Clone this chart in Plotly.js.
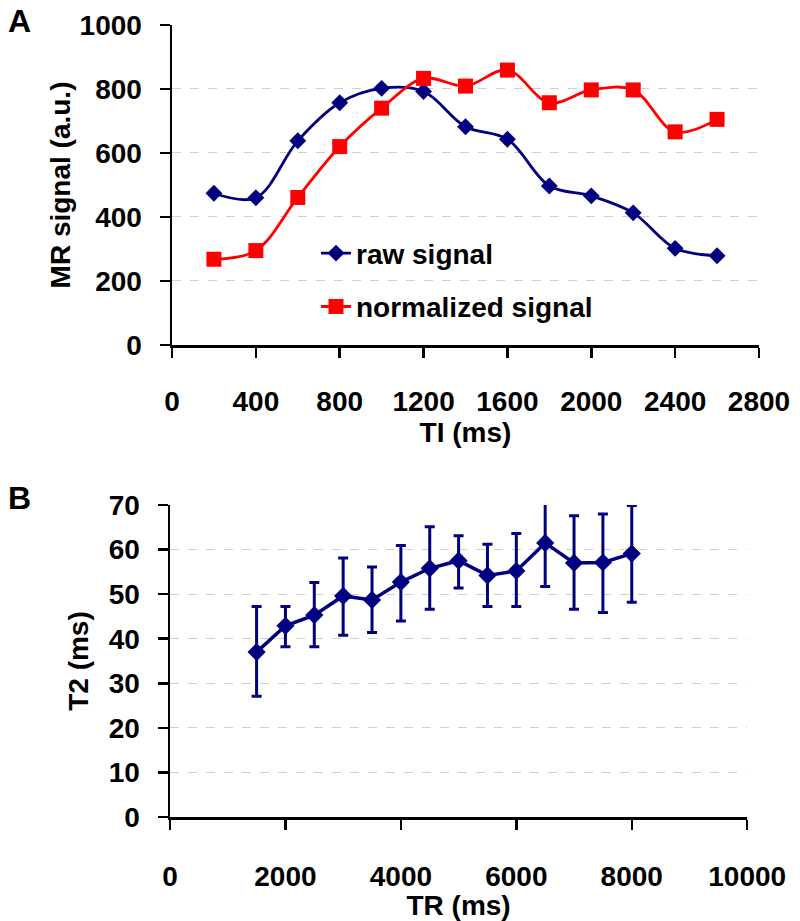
<!DOCTYPE html>
<html>
<head>
<meta charset="utf-8">
<script src="https://cdn.plot.ly/plotly-3.0.1.min.js"></script>
<style>html,body{margin:0;padding:0;background:#fff;}#chart{width:800px;height:921px;}</style>
</head>
<body>
<div id="chart"></div>
<script>
// Panel A data
const tiValues = [200, 400, 600, 800, 1000, 1200, 1400, 1600, 1800, 2000, 2200, 2400, 2600];
const rawSignal = [474, 460, 638, 757, 802, 792, 682, 643, 497, 466, 413, 302, 279];
const normalizedSignal = [268, 295, 461, 620, 740, 833, 809, 859, 757, 797, 797, 666, 705];
// Panel B data
const trValues = [1500, 2000, 2500, 3000, 3500, 4000, 4500, 5000, 5500, 6000, 6500, 7000, 7500, 8000];
const t2Values = [37.0, 42.9, 45.3, 49.6, 48.7, 52.7, 55.8, 57.5, 54.2, 55.2, 61.5, 57.0, 57.1, 59.1];
const t2ErrUpper = [10.2, 4.3, 7.3, 8.5, 7.4, 8.2, 9.3, 5.6, 7.0, 8.4, 9.1, 10.6, 10.9, 10.8];
const t2ErrLower = [9.9, 4.7, 7.1, 8.8, 7.3, 8.7, 9.2, 6.1, 7.0, 8.0, 9.8, 10.4, 11.2, 10.9];
// Tick labels
const tiTicks = [0, 400, 800, 1200, 1600, 2000, 2400, 2800];
const sigTicks = [0, 200, 400, 600, 800, 1000];
const trTicks = [0, 2000, 4000, 6000, 8000, 10000];
const t2Ticks = [0, 10, 20, 30, 40, 50, 60, 70];

const NAVY = '#000080';
const RED = '#ff0000';
const FONT = 'Liberation Sans, Arial, sans-serif';
const tfont = {family: FONT, size: 28, color: '#000', weight: 'bold'};

const traces = [
  {x: tiValues, y: rawSignal, name: 'raw signal', type: 'scatter', mode: 'lines+markers',
   xaxis: 'x', yaxis: 'y', legendgroup: 'a',
   line: {color: NAVY, width: 2.8, shape: 'spline', smoothing: 1},
   marker: {symbol: 'diamond', size: 13, color: NAVY}},
  {x: tiValues, y: normalizedSignal, name: 'normalized signal', type: 'scatter', mode: 'lines+markers',
   xaxis: 'x', yaxis: 'y', legendgroup: 'b',
   line: {color: RED, width: 2.8, shape: 'spline', smoothing: 1},
   marker: {symbol: 'square', size: 15, color: RED}},
  {x: trValues, y: t2Values, name: 'T2', type: 'scatter', mode: 'lines+markers',
   xaxis: 'x2', yaxis: 'y2', showlegend: false,
   line: {color: NAVY, width: 3.5},
   marker: {symbol: 'diamond', size: 14, color: NAVY},
   error_y: {type: 'data', symmetric: false, array: t2ErrUpper, arrayminus: t2ErrLower,
             color: NAVY, thickness: 3, width: 5}}
];

const axisCommon = {
  showline: true, linecolor: '#000', linewidth: 2.5,
  ticks: 'outside', ticklen: 10, tickwidth: 2.5, tickcolor: '#000',
  tickfont: tfont, zeroline: false, automargin: false, fixedrange: true
};
const gridStyle = {showgrid: true, gridcolor: '#cfcfcf', griddash: 'dash', gridwidth: 1};

const layout = {
  width: 800, height: 921,
  margin: {l: 0, r: 0, t: 0, b: 0},
  paper_bgcolor: '#fff', plot_bgcolor: 'rgba(0,0,0,0)',
  font: {family: FONT, color: '#000'},
  showlegend: true,
  legend: {x: 0.395, y: 0.752, xanchor: 'left', yanchor: 'top', bgcolor: 'rgba(0,0,0,0)',
           font: tfont, traceorder: 'grouped', tracegroupgap: 14, borderwidth: 0},
  xaxis: Object.assign({}, axisCommon, {
    domain: [0.215, 0.94875], anchor: 'y', range: [0, 2800],
    tickmode: 'array', tickvals: tiTicks, ticktext: tiTicks.map(String), showgrid: false,
    ticklabelstandoff: 20,
    title: {text: 'TI (ms)', font: tfont, standoff: 0}
  }),
  yaxis: Object.assign({}, axisCommon, gridStyle, {
    domain: [0.6254, 0.9729], anchor: 'x', range: [0, 1000],
    tickmode: 'array', tickvals: sigTicks, ticktext: sigTicks.map(String), ticklabelstandoff: 12,
    title: {text: 'MR signal (a.u.)', font: tfont, standoff: 1}
  }),
  xaxis2: Object.assign({}, axisCommon, {
    domain: [0.2125, 0.934], anchor: 'y2', range: [0, 10000],
    tickmode: 'array', tickvals: trTicks, ticktext: trTicks.map(String), showgrid: false,
    ticklabelstandoff: 23,
    title: {text: 'TR (ms)', font: tfont, standoff: 0}
  }),
  yaxis2: Object.assign({}, axisCommon, gridStyle, {
    domain: [0.11292, 0.45168], anchor: 'x2', range: [0, 70],
    tickmode: 'array', tickvals: t2Ticks, ticktext: t2Ticks.map(String), ticklabelstandoff: 12,
    title: {text: 'T2 (ms)', font: tfont, standoff: 12}
  }),
  shapes: [
    // white panel behind the legend that hides the gridline there (drawn under the data)
    {type: 'rect', xref: 'x', yref: 'y', x0: 490, x1: 2330, y0: 40, y1: 370,
     layer: 'below', fillcolor: '#ffffff', line: {width: 0}}
  ],
  annotations: [
    {text: 'A', xref: 'paper', yref: 'paper', x: 0.008, y: 0.999, xanchor: 'left', yanchor: 'top',
     showarrow: false, font: {family: FONT, size: 32, weight: 'bold', color: '#000'}},
    {text: 'B', xref: 'paper', yref: 'paper', x: 0.008, y: 0.481, xanchor: 'left', yanchor: 'top',
     showarrow: false, font: {family: FONT, size: 32, weight: 'bold', color: '#000'}}
  ]
};

Plotly.newPlot('chart', traces, layout, {staticPlot: true, displayModeBar: false});
</script>
</body>
</html>
